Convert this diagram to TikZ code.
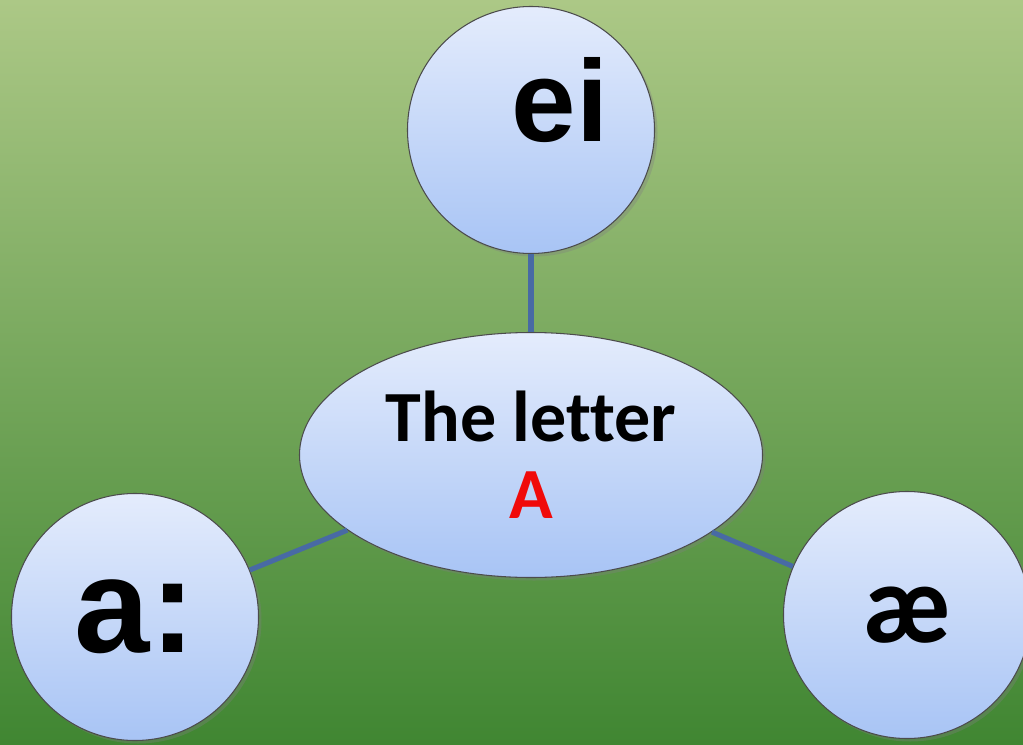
\documentclass[tikz,border=0pt]{standalone}
\usepackage{fontspec}
\setmainfont{Liberation Sans}
\newfontfamily\calib[Ligatures=CommonOff]{Carlito}
\usepackage{tikz}
\usetikzlibrary{shapes.geometric,shadows}
\definecolor{bgtop}{RGB}{172,200,134}
\definecolor{bgmid}{RGB}{122,172,86}
\definecolor{bgbot}{RGB}{64,134,50}
\definecolor{bubtop}{RGB}{228,236,252}
\definecolor{bubbot}{RGB}{168,196,245}
\definecolor{linkblue}{RGB}{72,106,164}
\definecolor{letterred}{RGB}{240,10,10}

\begin{document}
\begin{tikzpicture}[bubble/.style = {draw=black!70, line width=0.6pt, top color=bubtop, bottom color=bubbot, drop shadow={opacity=0.35, shadow xshift=0.06cm, shadow yshift=-0.06cm}},
	sound/.style = {circle, bubble, minimum size=4.94cm, inner sep=0pt},
	link/.style = {draw=linkblue, line width=2.9pt}]
	\shade[top color=bgtop, middle color=bgmid, bottom color=bgbot] (0,0) rectangle (20.46,14.88);
	\useasboundingbox (0,0) rectangle (20.46,14.88);
	\node[sound] (ei) at (10.62, 12.28){};
	\node[ellipse, bubble, minimum width=9.26cm, minimum height=4.9cm, align=center, inner sep=0pt,
		font=\calib\bfseries\fontsize{41}{44}\selectfont] (A) at (10.62, 5.78){The letter\\\textcolor{letterred}{A}};
	\node[sound, font=\bfseries\fontsize{77}{80}\selectfont] (aa) at (2.70, 2.54){a:};
	\node[sound, font=\calib\bfseries\fontsize{64}{66}\selectfont] (ae) at (18.14, 2.58){æ};
	\node[font=\bfseries\fontsize{66}{70}\selectfont, inner sep=0pt] (eitxt) at (11.2, 12.88){ei};
	\draw[link] (ei) -- (A);
	\draw[link] (A) -- (aa);
	\draw[link] (A) -- (ae);
\end{tikzpicture}
\end{document}
